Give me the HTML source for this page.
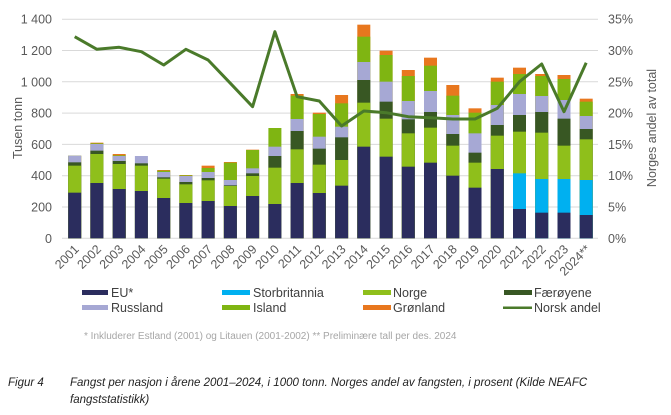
<!DOCTYPE html>
<html><head><meta charset="utf-8"><style>
body{margin:0;background:#fff;width:671px;height:410px;overflow:hidden;font-family:"Liberation Sans",sans-serif}
.g{fill:#e8771e}.i{fill:#7fb512}.r{fill:#a6a8d4}.f{fill:#385723}.n{fill:#8fbf1b}.u{fill:#00b0f0}.e{fill:#2b2d5e}
</style></head><body>
<svg width="671" height="410" xmlns="http://www.w3.org/2000/svg" font-family="Liberation Sans, sans-serif">
<g stroke="#d9d9d9" stroke-width="1">
<line x1="62" x2="598" y1="238.3" y2="238.3"/><line x1="62" x2="598" y1="207" y2="207"/><line x1="62" x2="598" y1="175.7" y2="175.7"/><line x1="62" x2="598" y1="144.4" y2="144.4"/><line x1="62" x2="598" y1="113.1" y2="113.1"/><line x1="62" x2="598" y1="81.8" y2="81.8"/><line x1="62" x2="598" y1="50.5" y2="50.5"/><line x1="62" x2="598" y1="19.2" y2="19.2"/>
</g>
<g transform="scale(1,0.333333)">
<g transform="translate(68.2,0)"><rect class="g" width="13" y="467" height="248"/><rect class="i" width="13" y="467" height="248"/><rect class="r" width="13" y="467" height="248"/><rect class="f" width="13" y="487" height="228"/><rect class="n" width="13" y="497" height="218"/><rect class="e" width="13" y="578" height="137"/></g>
<g transform="translate(90.4,0)"><rect class="g" width="13" y="428" height="287"/><rect class="i" width="13" y="430" height="285"/><rect class="r" width="13" y="432" height="283"/><rect class="f" width="13" y="452" height="263"/><rect class="n" width="13" y="462" height="253"/><rect class="e" width="13" y="549" height="166"/></g>
<g transform="translate(112.7,0)"><rect class="g" width="13" y="462" height="253"/><rect class="i" width="13" y="466" height="249"/><rect class="r" width="13" y="468" height="247"/><rect class="f" width="13" y="483" height="232"/><rect class="n" width="13" y="492" height="223"/><rect class="e" width="13" y="567" height="148"/></g>
<g transform="translate(134.9,0)"><rect class="r" width="13" y="468" height="247"/><rect class="f" width="13" y="490" height="225"/><rect class="n" width="13" y="497" height="218"/><rect class="e" width="13" y="573" height="142"/></g>
<g transform="translate(157.2,0)"><rect class="g" width="13" y="510" height="205"/><rect class="i" width="13" y="512" height="203"/><rect class="r" width="13" y="516" height="199"/><rect class="f" width="13" y="532" height="183"/><rect class="n" width="13" y="536" height="179"/><rect class="e" width="13" y="594" height="121"/></g>
<g transform="translate(179.4,0)"><rect class="g" width="13" y="525" height="190"/><rect class="i" width="13" y="526" height="189"/><rect class="r" width="13" y="528" height="187"/><rect class="f" width="13" y="546" height="169"/><rect class="n" width="13" y="553" height="162"/><rect class="e" width="13" y="609" height="106"/></g>
<g transform="translate(201.6,0)"><rect class="g" width="13" y="497" height="218"/><rect class="i" width="13" y="504" height="211"/><rect class="r" width="13" y="516" height="199"/><rect class="f" width="13" y="534" height="181"/><rect class="n" width="13" y="541" height="174"/><rect class="e" width="13" y="603" height="112"/></g>
<g transform="translate(223.9,0)"><rect class="g" width="13" y="486" height="229"/><rect class="i" width="13" y="488" height="227"/><rect class="r" width="13" y="540" height="175"/><rect class="f" width="13" y="556" height="159"/><rect class="n" width="13" y="558" height="157"/><rect class="e" width="13" y="618" height="97"/></g>
<g transform="translate(246.1,0)"><rect class="g" width="13" y="449" height="266"/><rect class="i" width="13" y="450" height="265"/><rect class="r" width="13" y="505" height="210"/><rect class="f" width="13" y="520" height="195"/><rect class="n" width="13" y="528" height="187"/><rect class="e" width="13" y="588" height="127"/></g>
<g transform="translate(268.4,0)"><rect class="i" width="13" y="384" height="331"/><rect class="r" width="13" y="440" height="275"/><rect class="f" width="13" y="468" height="247"/><rect class="n" width="13" y="503" height="212"/><rect class="e" width="13" y="612" height="103"/></g>
<g transform="translate(290.6,0)"><rect class="g" width="13" y="282" height="433"/><rect class="i" width="13" y="287" height="428"/><rect class="r" width="13" y="357" height="358"/><rect class="f" width="13" y="393" height="322"/><rect class="n" width="13" y="448" height="267"/><rect class="e" width="13" y="549" height="166"/></g>
<g transform="translate(312.8,0)"><rect class="g" width="13" y="338" height="377"/><rect class="i" width="13" y="342" height="373"/><rect class="r" width="13" y="410" height="305"/><rect class="f" width="13" y="446" height="269"/><rect class="n" width="13" y="494" height="221"/><rect class="e" width="13" y="579" height="136"/></g>
<g transform="translate(335.1,0)"><rect class="g" width="13" y="285" height="430"/><rect class="i" width="13" y="310" height="405"/><rect class="r" width="13" y="380" height="335"/><rect class="f" width="13" y="412" height="303"/><rect class="n" width="13" y="480" height="235"/><rect class="e" width="13" y="557" height="158"/></g>
<g transform="translate(357.3,0)"><rect class="g" width="13" y="74" height="641"/><rect class="i" width="13" y="110" height="605"/><rect class="r" width="13" y="186" height="529"/><rect class="f" width="13" y="240" height="475"/><rect class="n" width="13" y="308" height="407"/><rect class="e" width="13" y="440" height="275"/></g>
<g transform="translate(379.6,0)"><rect class="g" width="13" y="152" height="563"/><rect class="i" width="13" y="165" height="550"/><rect class="r" width="13" y="245" height="470"/><rect class="f" width="13" y="305" height="410"/><rect class="n" width="13" y="356" height="359"/><rect class="e" width="13" y="470" height="245"/></g>
<g transform="translate(401.8,0)"><rect class="g" width="13" y="210" height="505"/><rect class="i" width="13" y="228" height="487"/><rect class="r" width="13" y="303" height="412"/><rect class="f" width="13" y="358" height="357"/><rect class="n" width="13" y="400" height="315"/><rect class="e" width="13" y="500" height="215"/></g>
<g transform="translate(424.0,0)"><rect class="g" width="13" y="173" height="542"/><rect class="i" width="13" y="197" height="518"/><rect class="r" width="13" y="273" height="442"/><rect class="f" width="13" y="336" height="379"/><rect class="n" width="13" y="383" height="332"/><rect class="e" width="13" y="488" height="227"/></g>
<g transform="translate(446.3,0)"><rect class="g" width="13" y="255" height="460"/><rect class="i" width="13" y="287" height="428"/><rect class="r" width="13" y="345" height="370"/><rect class="f" width="13" y="402" height="313"/><rect class="n" width="13" y="437" height="278"/><rect class="e" width="13" y="527" height="188"/></g>
<g transform="translate(468.5,0)"><rect class="g" width="13" y="325" height="390"/><rect class="i" width="13" y="338" height="377"/><rect class="r" width="13" y="400" height="315"/><rect class="f" width="13" y="458" height="257"/><rect class="n" width="13" y="488" height="227"/><rect class="e" width="13" y="563" height="152"/></g>
<g transform="translate(490.8,0)"><rect class="g" width="13" y="233" height="482"/><rect class="i" width="13" y="245" height="470"/><rect class="r" width="13" y="315" height="400"/><rect class="f" width="13" y="375" height="340"/><rect class="n" width="13" y="407" height="308"/><rect class="e" width="13" y="507" height="208"/></g>
<g transform="translate(513.0,0)"><rect class="g" width="13" y="203" height="512"/><rect class="i" width="13" y="222" height="493"/><rect class="r" width="13" y="282" height="433"/><rect class="f" width="13" y="345" height="370"/><rect class="n" width="13" y="395" height="320"/><rect class="u" width="13" y="520" height="195"/><rect class="e" width="13" y="627" height="88"/></g>
<g transform="translate(535.2,0)"><rect class="g" width="13" y="222" height="493"/><rect class="i" width="13" y="228" height="487"/><rect class="r" width="13" y="288" height="427"/><rect class="f" width="13" y="336" height="379"/><rect class="n" width="13" y="398" height="317"/><rect class="u" width="13" y="537" height="178"/><rect class="e" width="13" y="638" height="77"/></g>
<g transform="translate(557.5,0)"><rect class="g" width="13" y="225" height="490"/><rect class="i" width="13" y="237" height="478"/><rect class="r" width="13" y="300" height="415"/><rect class="f" width="13" y="356" height="359"/><rect class="n" width="13" y="437" height="278"/><rect class="u" width="13" y="537" height="178"/><rect class="e" width="13" y="638" height="77"/></g>
<g transform="translate(579.7,0)"><rect class="g" width="13" y="296" height="419"/><rect class="i" width="13" y="305" height="410"/><rect class="r" width="13" y="348" height="367"/><rect class="f" width="13" y="387" height="328"/><rect class="n" width="13" y="418" height="297"/><rect class="u" width="13" y="540" height="175"/><rect class="e" width="13" y="645" height="70"/></g>
</g>
<polyline fill="none" stroke="#4a7a2a" stroke-width="3" stroke-linejoin="round" points="74.7,36.7 96.9,49.3 119.2,47.3 141.4,51.7 163.7,65 185.9,49.3 208.1,60 230.4,83.3 252.6,106.7 274.9,31.7 297.1,96.7 319.3,101 341.6,126 363.8,111 386.1,112.7 408.3,116.7 430.5,117.7 452.8,119 475,119 497.3,108.3 519.5,81.7 541.7,64 564,111.7 586.2,62.7"/>
<g fill="#595959" font-size="12.5">
<g text-anchor="end"><text x="52" y="242.8">0</text><text x="52" y="211.5">200</text><text x="52" y="180.2">400</text><text x="52" y="148.9">600</text><text x="52" y="117.6">800</text><text x="52" y="86.3">1 000</text><text x="52" y="55">1 200</text><text x="52" y="23.7">1 400</text></g>
<text x="608" y="242.8">0%</text><text x="608" y="211.5">5%</text><text x="608" y="180.2">10%</text><text x="608" y="148.9">15%</text><text x="608" y="117.6">20%</text><text x="608" y="86.3">25%</text><text x="608" y="55">30%</text><text x="608" y="23.7">35%</text>
<g text-anchor="end">
<text transform="translate(79.7,250) rotate(-45)">2001</text><text transform="translate(101.9,250) rotate(-45)">2002</text><text transform="translate(124.2,250) rotate(-45)">2003</text><text transform="translate(146.4,250) rotate(-45)">2004</text><text transform="translate(168.7,250) rotate(-45)">2005</text><text transform="translate(190.9,250) rotate(-45)">2006</text><text transform="translate(213.1,250) rotate(-45)">2007</text><text transform="translate(235.4,250) rotate(-45)">2008</text><text transform="translate(257.6,250) rotate(-45)">2009</text><text transform="translate(279.9,250) rotate(-45)">2010</text><text transform="translate(302.1,250) rotate(-45)">2011</text><text transform="translate(324.3,250) rotate(-45)">2012</text><text transform="translate(346.6,250) rotate(-45)">2013</text><text transform="translate(368.8,250) rotate(-45)">2014</text><text transform="translate(391.1,250) rotate(-45)">2015</text><text transform="translate(413.3,250) rotate(-45)">2016</text><text transform="translate(435.5,250) rotate(-45)">2017</text><text transform="translate(457.8,250) rotate(-45)">2018</text><text transform="translate(480,250) rotate(-45)">2019</text><text transform="translate(502.3,250) rotate(-45)">2020</text><text transform="translate(524.5,250) rotate(-45)">2021</text><text transform="translate(546.7,250) rotate(-45)">2022</text><text transform="translate(569,250) rotate(-45)">2023</text><text transform="translate(591.2,250) rotate(-45)">2024**</text>
</g></g>
<text transform="translate(22,128) rotate(-90)" text-anchor="middle" font-size="12.5" fill="#595959">Tusen tonn</text>
<text transform="translate(656,128) rotate(-90)" text-anchor="middle" font-size="12.5" fill="#595959">Norges andel av total</text>
<g font-size="12.5" fill="#404040">
<rect x="82" y="290" width="26" height="5" fill="#2b2d5e"/><text x="111" y="297">EU*</text>
<rect x="222" y="290" width="28" height="5" fill="#00b0f0"/><text x="253" y="297">Storbritannia</text>
<rect x="363" y="290" width="28" height="5" fill="#8fbf1b"/><text x="393" y="297">Norge</text>
<rect x="504" y="290" width="28" height="5" fill="#385723"/><text x="534" y="297">Færøyene</text>
<rect x="82" y="305" width="26" height="5" fill="#a6a8d4"/><text x="111" y="312">Russland</text>
<rect x="222" y="305" width="28" height="5" fill="#7fb512"/><text x="253" y="312">Island</text>
<rect x="363" y="305" width="28" height="5" fill="#e8771e"/><text x="393" y="312">Grønland</text>
<rect x="503" y="306.5" width="29" height="2.5" fill="#4a7a2a"/><text x="534" y="312">Norsk andel</text>
</g>
<text x="84" y="339" font-size="10" fill="#a6a6a6">* Inkluderer Estland (2001) og Litauen (2001-2002) ** Preliminære tall per des. 2024</text>
<g font-size="11.5" fill="#222" font-style="italic">
<text x="8" y="386">Figur 4</text>
<text x="70" y="386">Fangst per nasjon i årene 2001–2024, i 1000 tonn. Norges andel av fangsten, i prosent (Kilde NEAFC</text>
<text x="70" y="403">fangststatistikk)</text>
</g>
</svg>
</body></html>
